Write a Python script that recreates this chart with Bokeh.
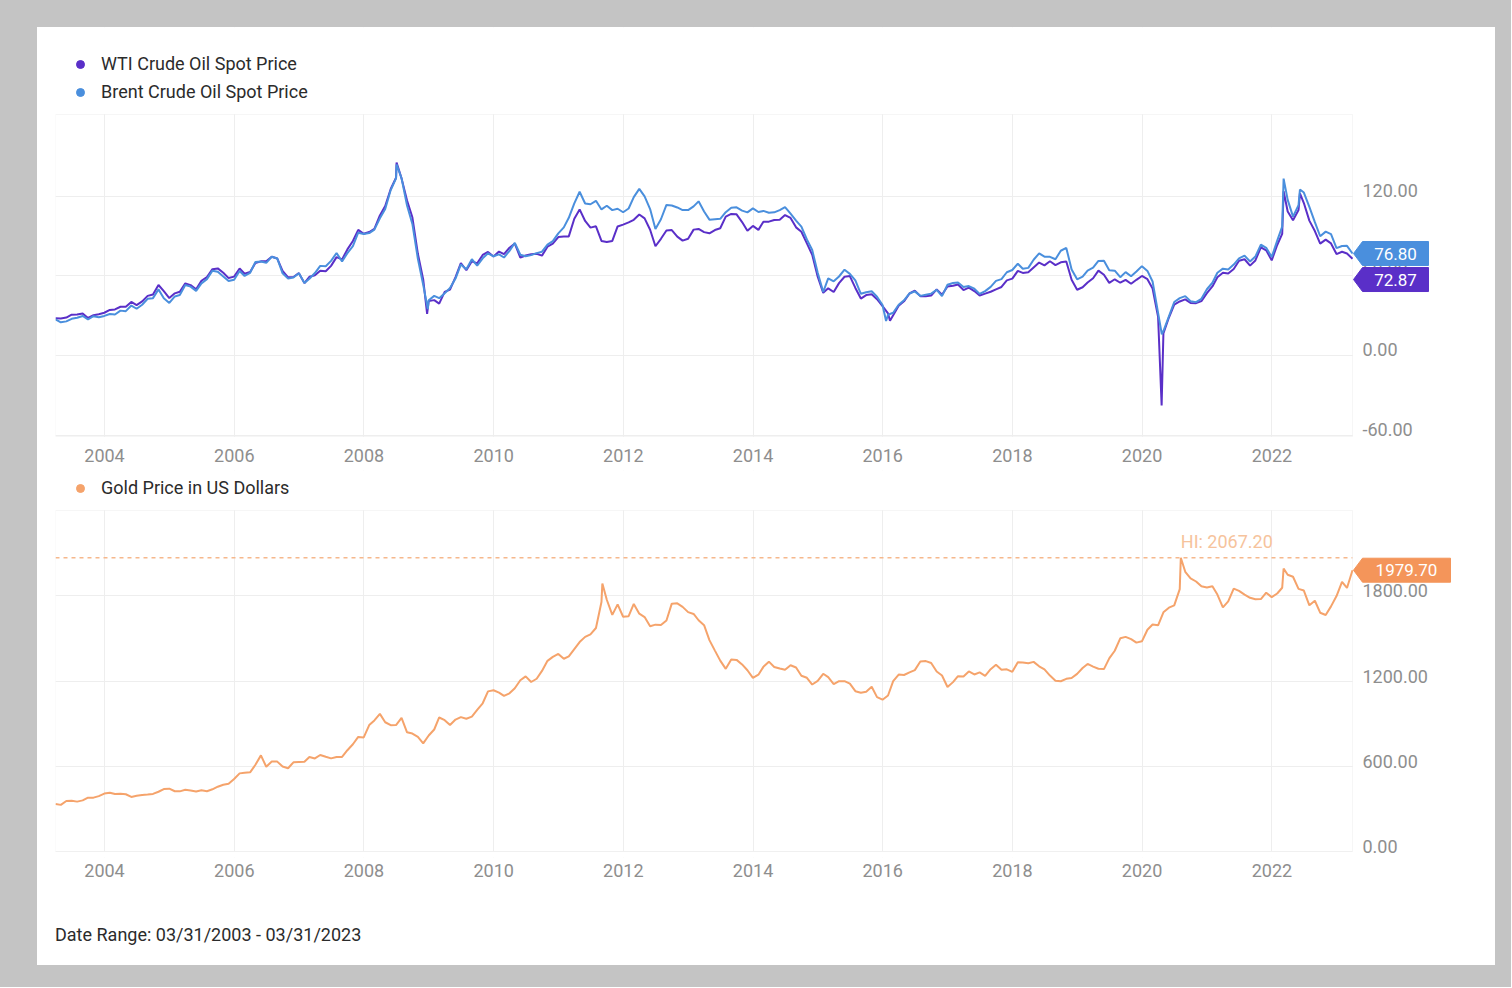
import numpy as np
import pandas as pd
from bokeh.plotting import figure
from bokeh.layouts import column
from bokeh.models import (FixedTicker, DatetimeTickFormatter, Legend, LegendItem, Label,
                          PolyAnnotation, BoxAnnotation, Span, ColumnDataSource, Range1d,
                          Grid, Div)
from bokeh.embed import file_html
from bokeh.resources import INLINE

START = "2003-03-31"
END = "2023-03-31"

# ---- data (month-end readings, 2003-03 .. 2023-03) ----
wti_monthly = [
    28.0, 27.9, 28.6, 30.7, 30.8, 31.6, 28.3, 30.3, 31.1, 32.2,
    34.3, 34.7, 36.7, 36.7, 40.3, 38.0, 40.7, 44.9, 46.0, 53.1, 48.5, 43.3,
    46.8, 48.0, 54.3, 53.0, 49.8, 56.3, 59.0, 65.0, 65.6, 62.3, 58.3, 59.4,
    65.5, 61.6, 62.9, 69.7, 70.9, 70.9, 74.4, 73.0, 63.8, 58.9, 59.1, 62.0,
    54.5, 59.3, 60.4, 63.9, 63.5, 67.5, 74.1, 72.4, 79.9, 86.2, 94.6, 91.7,
    93.0, 95.4, 105.5, 112.6, 125.4, 133.9, 133.4, 116.7, 104.1, 76.6, 57.3, 41.1,
    41.7, 39.1, 47.9, 49.7, 59.0, 69.6, 64.2, 71.0, 69.4, 75.7, 78.0, 74.5,
    78.3, 76.4, 81.2, 84.3, 73.7, 75.3, 76.3, 76.6, 75.2, 81.9, 84.3, 89.2,
    89.6, 89.7, 103.0, 110.0, 101.3, 96.3, 97.3, 86.3, 85.5, 86.3, 97.2, 98.6,
    100.3, 102.2, 106.2, 103.3, 94.7, 82.3, 87.9, 94.1, 94.5, 89.5, 86.5, 87.9,
    94.8, 95.3, 92.9, 92.0, 94.5, 95.8, 104.6, 106.6, 106.3, 100.5, 93.9, 97.6,
    94.6, 100.8, 100.8, 102.1, 102.2, 105.8, 103.6, 96.5, 93.2, 84.4, 75.8, 59.3,
    47.2, 50.6, 47.8, 54.5, 59.3, 59.8, 50.9, 42.9, 45.5, 46.2, 42.4, 37.2,
    31.7, 30.3, 37.5, 40.8, 46.7, 48.8, 44.7, 44.7, 45.2, 49.8, 45.7, 52.0,
    52.5, 53.5, 49.3, 51.1, 48.5, 45.2, 46.6, 48.0, 49.8, 51.6, 56.6, 57.9,
    63.7, 62.2, 62.7, 66.3, 70.0, 67.9, 71.0, 68.1, 70.2, 70.8, 57.0, 49.5,
    51.4, 55.0, 58.2, 63.9, 60.8, 54.7, 57.4, 54.8, 57.0, 54.0, 57.0, 59.9,
    57.5, 50.5, 29.2, 16.6, 28.6, 38.3, 40.7, 42.3, 39.6, 39.4, 41.0, 47.0,
    52.0, 59.0, 62.3, 61.7, 65.2, 71.4, 72.5, 67.7, 71.6, 81.5, 79.2, 71.7,
    83.2, 91.6, 108.5, 101.8, 109.6, 114.8, 101.6, 93.7, 84.3, 87.3, 84.4, 76.4,
    78.1, 76.8, 72.87,
]
brent_monthly = [
    27.2, 25.0, 25.7, 27.6, 28.4, 29.8, 27.1, 29.6, 28.8, 29.8,
    31.3, 30.9, 33.8, 33.4, 37.6, 35.2, 38.2, 42.7, 43.2, 49.8, 43.1, 39.6,
    44.5, 45.5, 53.1, 51.9, 48.7, 54.3, 57.5, 63.9, 63.1, 59.5, 56.1, 57.0,
    63.6, 59.9, 62.3, 70.4, 70.8, 69.8, 74.4, 73.1, 61.9, 57.9, 58.8, 62.0,
    54.6, 57.8, 62.1, 67.5, 67.2, 71.3, 77.2, 70.8, 77.1, 82.3, 92.5, 91.5,
    92.2, 94.8, 103.3, 110.4, 124.6, 133.5, 133.5, 113.0, 99.1, 72.8, 53.2, 41.6,
    44.9, 43.2, 46.8, 50.8, 57.9, 68.6, 64.9, 72.5, 67.7, 73.2, 77.0, 74.7,
    76.2, 73.8, 78.8, 84.8, 75.9, 74.8, 75.6, 77.1, 78.2, 83.5, 86.1, 92.0,
    96.5, 103.7, 114.6, 123.3, 114.5, 113.9, 116.5, 110.0, 112.8, 109.5, 110.5, 107.9,
    110.7, 119.3, 125.5, 119.8, 110.3, 95.2, 102.6, 113.4, 113.0, 111.5, 109.5, 109.5,
    112.3, 116.1, 108.5, 102.3, 102.6, 102.9, 107.9, 111.3, 111.6, 109.1, 107.8, 110.8,
    108.1, 108.9, 107.5, 107.8, 109.5, 111.8, 106.8, 101.6, 97.1, 87.4, 79.4, 62.3,
    47.8, 58.1, 55.9, 59.5, 64.6, 61.5, 56.6, 46.5, 47.6, 48.4, 44.3, 38.0,
    30.7, 32.2, 38.2, 41.6, 46.7, 48.3, 44.9, 45.8, 46.6, 49.5, 44.7, 53.3,
    54.6, 55.0, 51.6, 52.3, 50.3, 46.4, 48.5, 51.7, 56.2, 57.5, 62.7, 64.4,
    69.1, 65.3, 66.0, 72.1, 76.9, 74.4, 74.3, 72.5, 78.9, 81.0, 64.8, 57.4,
    59.4, 64.0, 66.1, 71.2, 71.3, 64.2, 63.9, 59.0, 62.8, 59.7, 63.2, 67.3,
    63.7, 55.7, 32.0, 18.4, 29.4, 40.3, 43.2, 44.7, 40.9, 40.2, 42.7, 49.9,
    54.8, 62.3, 65.4, 64.8, 68.5, 73.2, 75.2, 70.8, 74.5, 83.5, 81.1, 74.2,
    86.5, 97.1, 117.2, 104.6, 113.3, 122.7, 111.9, 100.4, 89.8, 93.3, 91.4, 80.9,
    82.5, 82.6, 76.80,
]
gold_monthly = [
    334.9, 328.2, 355.7, 356.4, 351.0, 359.8, 378.9, 378.9, 389.9, 407.6,
    413.8, 404.9, 406.7, 403.0, 383.8, 392.4, 398.1, 400.5, 405.3, 420.5, 439.4, 442.1,
    424.0, 423.4, 434.0, 429.2, 421.9, 430.7, 424.5, 437.9, 456.0, 469.9, 476.7, 510.1,
    549.9, 555.0, 557.1, 610.6, 676.5, 596.2, 633.7, 632.6, 598.2, 585.8, 627.8, 629.8,
    631.2, 664.8, 654.9, 679.4, 666.9, 655.5, 665.3, 665.4, 712.7, 754.6, 806.2, 803.2,
    889.6, 922.3, 968.4, 909.7, 888.7, 889.5, 939.8, 839.0, 829.9, 806.6, 760.9, 816.1,
    858.7, 943.2, 924.3, 890.2, 928.6, 945.7, 934.2, 949.4, 996.6, 1043.2, 1127.0, 1134.7,
    1118.0, 1095.4, 1113.3, 1148.7, 1205.4, 1232.9, 1193.0, 1215.8, 1271.0, 1342.0, 1369.9, 1390.6,
    1356.4, 1372.7, 1424.0, 1473.8, 1510.4, 1528.7, 1572.8, 1755.8, 1771.9, 1665.2, 1739.0, 1652.3,
    1656.1, 1742.1, 1673.8, 1649.7, 1585.5, 1596.7, 1593.9, 1626.0, 1744.5, 1746.6, 1721.6, 1684.8,
    1671.9, 1627.6, 1593.1, 1487.9, 1414.0, 1343.4, 1285.5, 1351.7, 1348.6, 1316.6, 1275.9, 1221.5,
    1244.3, 1299.6, 1336.1, 1299.0, 1287.5, 1279.1, 1310.6, 1295.1, 1236.6, 1222.5, 1175.3, 1200.6,
    1250.8, 1227.1, 1178.6, 1198.9, 1198.6, 1181.5, 1128.3, 1117.9, 1124.5, 1159.3, 1086.4, 1068.3,
    1097.9, 1199.5, 1245.1, 1242.3, 1260.9, 1276.4, 1336.7, 1340.2, 1326.6, 1266.6, 1238.4, 1157.4,
    1192.1, 1234.2, 1231.4, 1266.9, 1246.0, 1260.3, 1236.8, 1283.0, 1314.1, 1279.5, 1281.9, 1264.5,
    1331.3, 1330.7, 1324.7, 1334.8, 1303.5, 1281.6, 1238.0, 1201.7, 1198.4, 1215.4, 1220.7, 1250.4,
    1291.8, 1320.1, 1300.9, 1285.9, 1283.7, 1359.0, 1412.9, 1500.4, 1510.6, 1494.8, 1470.0, 1479.1,
    1560.7, 1597.1, 1591.9, 1683.2, 1715.9, 1732.2, 1846.5, 1968.6, 1921.9, 1900.3, 1866.3, 1858.4,
    1867.0, 1808.2, 1718.2, 1760.0, 1850.3, 1834.6, 1807.8, 1785.3, 1775.1, 1776.9, 1821.4, 1790.3,
    1816.0, 1856.3, 1947.8, 1933.5, 1848.5, 1836.6, 1732.7, 1764.6, 1680.6, 1664.5, 1725.1, 1797.6,
    1898.4, 1854.6, 1979.7,
]
# intra-month extremes visible in the weekly chart
wti_extra_dates = ["2008-07-03", "2008-12-22", "2016-02-11", "2020-04-20", "2022-03-08", "2022-06-08"]
wti_extra_vals = [145.3, 31.4, 26.2, -37.6, 123.7, 122.1]
brent_extra_dates = ["2008-07-03", "2008-12-26", "2016-01-20", "2020-04-21", "2022-03-08", "2022-06-08"]
brent_extra_vals = [143.9, 35.0, 26.0, 16.0, 133.2, 125.0]
gold_extra_dates = ["2011-09-05", "2020-08-06", "2022-03-08"]
gold_extra_vals = [1886.0, 2067.2, 1992.0]

years = [2004, 2006, 2008, 2010, 2012, 2014, 2016, 2018, 2020, 2022]
oil_ticks = [-60, 0, 60, 120]
gold_ticks = [0, 600, 1200, 1800]
wti_last = 72.87
brent_last = 76.80
gold_last = 1979.70
gold_hi = 2067.20
gold_hi_date = "2020-08-06"
date_range_text = "Date Range: 03/31/2003 - 03/31/2023"

WTI_C = "#5a2fc8"
BRENT_C = "#4a8fdd"
GOLD_C = "#f5a36b"
GOLD_BADGE = "#f4955a"
GRID_C = "#eeeeee"
OUTLINE_C = "#e2e2e2"
TICK_C = "#8e8e8e"
TEXT_C = "#2b2b2b"
FONT = "Roboto"


def month_index():
    try:
        return pd.date_range(START, END, freq="ME")
    except ValueError:
        return pd.date_range(START, END, freq="M")


def series(monthly, extra_dates, extra_vals):
    s = pd.Series(monthly, index=month_index())
    e = pd.Series(extra_vals, index=pd.to_datetime(extra_dates))
    s = pd.concat([s, e]).sort_index()
    return ColumnDataSource(data=dict(date=s.index, v=s.values))


def ms(d):
    return pd.Timestamp(d).value / 1e6


DATA_W = 1297          # plotting area width (px)
SIDE_W = 143           # value-label / badge strip to its right (px)
BOT_EXT = 6            # room below the plotting area so the lowest value label is not cut
X0, X1 = ms(START), ms(END)
MSPP = (X1 - X0) / DATA_W


def make_fig(data_h, top_ext, y0, y1, ticks):
    ypp = (y1 - y0) / data_h
    y_top = y1 + top_ext * ypp
    y_bot = y0 - BOT_EXT * ypp
    p = figure(x_axis_type="datetime", y_axis_location=None,
               frame_width=DATA_W + SIDE_W, frame_height=data_h + top_ext + BOT_EXT,
               min_border_left=18, min_border_right=0, min_border_top=0,
               min_border_bottom=34 - BOT_EXT,
               x_range=Range1d(X0, X0 + (DATA_W + SIDE_W) * MSPP), y_range=Range1d(y_bot, y_top),
               output_backend="svg", toolbar_location=None,
               background_fill_color="white", border_fill_color="white",
               outline_line_color=None)
    p.xaxis.ticker = FixedTicker(ticks=[ms(f"{y}-01-01") for y in years])
    p.xaxis.formatter = DatetimeTickFormatter(years="%Y", months="%Y", days="%Y",
                                              hours="%Y", minutes="%Y", seconds="%Y")
    p.xaxis.axis_line_color = None
    p.xaxis.major_tick_line_color = None
    p.xaxis.minor_tick_line_color = None
    p.xaxis.major_label_text_font = FONT
    p.xaxis.major_label_text_font_size = "18px"
    p.xaxis.major_label_text_color = TICK_C
    p.xaxis.major_label_standoff = 0
    p.xgrid.grid_line_color = GRID_C
    p.ygrid.grid_line_color = None
    p.add_layout(Grid(dimension=1, ticker=FixedTicker(ticks=ticks), grid_line_color=GRID_C))
    return p, ypp


def finish_frame(p, y0, y1, extra=None):
    # keep grid lines inside the plotting area
    if extra is not None:
        p.add_layout(extra)
    for kw in (dict(bottom=y1), dict(top=y0), dict(left=X1)):
        p.add_layout(BoxAnnotation(fill_color="white", fill_alpha=1, line_alpha=0,
                                   level="underlay", **kw))
    p.add_layout(BoxAnnotation(left=X0, right=X1, bottom=y0, top=y1, fill_alpha=0,
                               line_color=OUTLINE_C, line_width=1, level="underlay"))


def value_labels(p, ticks, dy):
    src = ColumnDataSource(data=dict(x=[X1] * len(ticks), y=ticks,
                                     t=[f"{t:.2f}" for t in ticks]))
    p.text(x="x", y="y", text="t", source=src, x_offset=10, y_offset=dy,
           text_align="left", text_baseline="middle", text_color=TICK_C,
           text_font_size="18px", text_font={"value": FONT})


def add_legend(p, data_h, entries):
    items = []
    for label, color in entries:
        # legend swatch only: a single non-drawn point
        r = p.scatter(x=np.array([X0]), y=np.array([np.nan]), size=8, color=color)
        items.append(LegendItem(label=label, renderers=[r]))
    lg = Legend(items=items, location=(15, data_h + BOT_EXT + 12), orientation="vertical",
                border_line_color=None, background_fill_alpha=0, padding=0, margin=0,
                spacing=7, glyph_width=20, glyph_height=20, label_height=20,
                label_standoff=11, label_text_font=FONT, label_text_font_size="18px",
                label_text_color=TEXT_C)
    p.add_layout(lg)


def badge(p, cy, text, color, w_px, ypp):
    h = 12 * ypp
    xs = [X1 + 1 * MSPP, X1 + 10 * MSPP, X1 + w_px * MSPP, X1 + w_px * MSPP, X1 + 10 * MSPP]
    ys = [cy, cy + h, cy + h, cy - h, cy - h]
    p.add_layout(PolyAnnotation(xs=xs, ys=ys, xs_units="data", ys_units="data",
                                fill_color=color, fill_alpha=1.0,
                                line_color=color, line_alpha=1.0))
    p.add_layout(Label(x=X1 + (10 + w_px) / 2 * MSPP, y=cy, text=text,
                       text_align="center", text_baseline="middle",
                       text_color="white", text_font=FONT, text_font_size="17px"))


# ---- top: oil ----
OIL_Y0, OIL_Y1, OIL_H, OIL_EXT = -61.0, 181.5, 322, 87
p1, oil_ypp = make_fig(OIL_H, OIL_EXT, OIL_Y0, OIL_Y1, oil_ticks)
finish_frame(p1, OIL_Y0, OIL_Y1)
value_labels(p1, oil_ticks, -6)
p1.line(x="date", y="v", source=series(wti_monthly, wti_extra_dates, wti_extra_vals),
        line_width=2, color=WTI_C)
p1.line(x="date", y="v", source=series(brent_monthly, brent_extra_dates, brent_extra_vals),
        line_width=2, color=BRENT_C)
add_legend(p1, OIL_H, [("WTI Crude Oil Spot Price", WTI_C), ("Brent Crude Oil Spot Price", BRENT_C)])
badge(p1, brent_last, f"{brent_last:.2f}", BRENT_C, 76, oil_ypp)
badge(p1, brent_last - 26 * oil_ypp, f"{wti_last:.2f}", WTI_C, 76, oil_ypp)

# ---- bottom: gold ----
G_Y0, G_Y1, G_H, G_EXT = 0.0, 2400.0, 341, 40
p2, g_ypp = make_fig(G_H, G_EXT, G_Y0, G_Y1, gold_ticks)
hi_line = Span(location=gold_hi, dimension="width", line_color="#f6b88c",
               line_dash="4 4", line_width=1.5, level="underlay")
finish_frame(p2, G_Y0, G_Y1, extra=hi_line)
value_labels(p2, gold_ticks, -5)
p2.line(x="date", y="v", source=series(gold_monthly, gold_extra_dates, gold_extra_vals),
        line_width=2, color=GOLD_C)
add_legend(p2, G_H, [("Gold Price in US Dollars", GOLD_C)])
p2.add_layout(Label(x=ms(gold_hi_date), y=gold_hi, y_offset=16, text=f"HI: {gold_hi:.2f}",
                    text_align="left", text_baseline="middle", text_color="#f6c39c",
                    text_font=FONT, text_font_size="18px"))
badge(p2, gold_last, f"{gold_last:.2f}", GOLD_BADGE, 98, g_ypp)

footer = Div(text=date_range_text, width=1420, height=41, margin=(39, 0, 0, 18),
             styles={"font-family": FONT, "font-size": "18px", "color": TEXT_C,
                     "line-height": "22px"})

card = column(p1, p2, footer, styles={"background-color": "white"}, margin=(27, 16, 22, 37))
layout = column(card, styles={"background-color": "#c4c4c4"})
open("out.html", "w").write(file_html(layout, INLINE))
